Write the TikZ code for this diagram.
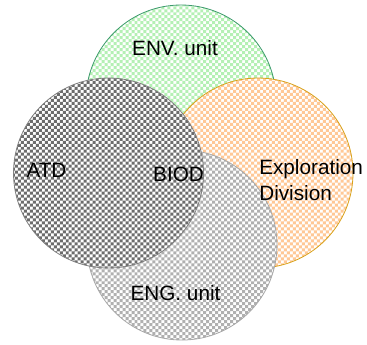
\documentclass[tikz,border=0pt]{standalone}
\usepackage{fontspec}
\setmainfont{Liberation Sans}
\usetikzlibrary{patterns}

\pgfdeclarepatternformonly{checks}{\pgfqpoint{-1pt}{-1pt}}{\pgfqpoint{5.5pt}{5.5pt}}{\pgfqpoint{4.5pt}{4.5pt}}%
{%
  \pgfpathrectangle{\pgfqpoint{0pt}{0pt}}{\pgfqpoint{2.25pt}{2.25pt}}%
  \pgfpathrectangle{\pgfqpoint{2.25pt}{2.25pt}}{\pgfqpoint{2.25pt}{2.25pt}}%
  \pgfusepath{fill}%
}

\definecolor{envfill}{HTML}{B4F0B4}
\definecolor{envline}{HTML}{3C9A6C}
\definecolor{expfill}{HTML}{FFC896}
\definecolor{expline}{HTML}{D9A21B}
\definecolor{engfill}{HTML}{B0B0B0}
\definecolor{engline}{HTML}{A8A8A8}
\definecolor{atdfill}{HTML}{6C6C6C}
\definecolor{atdline}{HTML}{808080}

\tikzset{
  unit/.style={circle,minimum size=5.027cm,inner sep=0pt,line width=0.6pt,
    preaction={fill=white},pattern=checks},
  label/.style={font=\fontsize{15.6}{19.5}\selectfont,inner sep=0pt}
}

\begin{document}
\begin{tikzpicture}

\useasboundingbox (0,0) rectangle (9.710,9.102);

\node[unit,draw=envline,pattern color=envfill] (env) at (4.789,6.456) {};
\node[unit,draw=expline,pattern color=expfill] (exp) at (6.826,4.524) {};
\node[unit,draw=engline,pattern color=engfill] (eng) at (4.815,2.619) {};
\node[unit,draw=atdline,pattern color=atdfill] (atd) at (2.871,4.524) {};

\node[label] (envtext) at (4.630,7.832) {ENV. unit};
\node[label] (atdtext) at (1.230,4.604) {ATD};
\node[label] (biodtext) at (4.723,4.498) {BIOD};
\node[label,align=left,anchor=west] (exptext) at (6.853,4.339) {Exploration\\Division};
\node[label] (engtext) at (4.643,1.349) {ENG. unit};

\end{tikzpicture}
\end{document}
